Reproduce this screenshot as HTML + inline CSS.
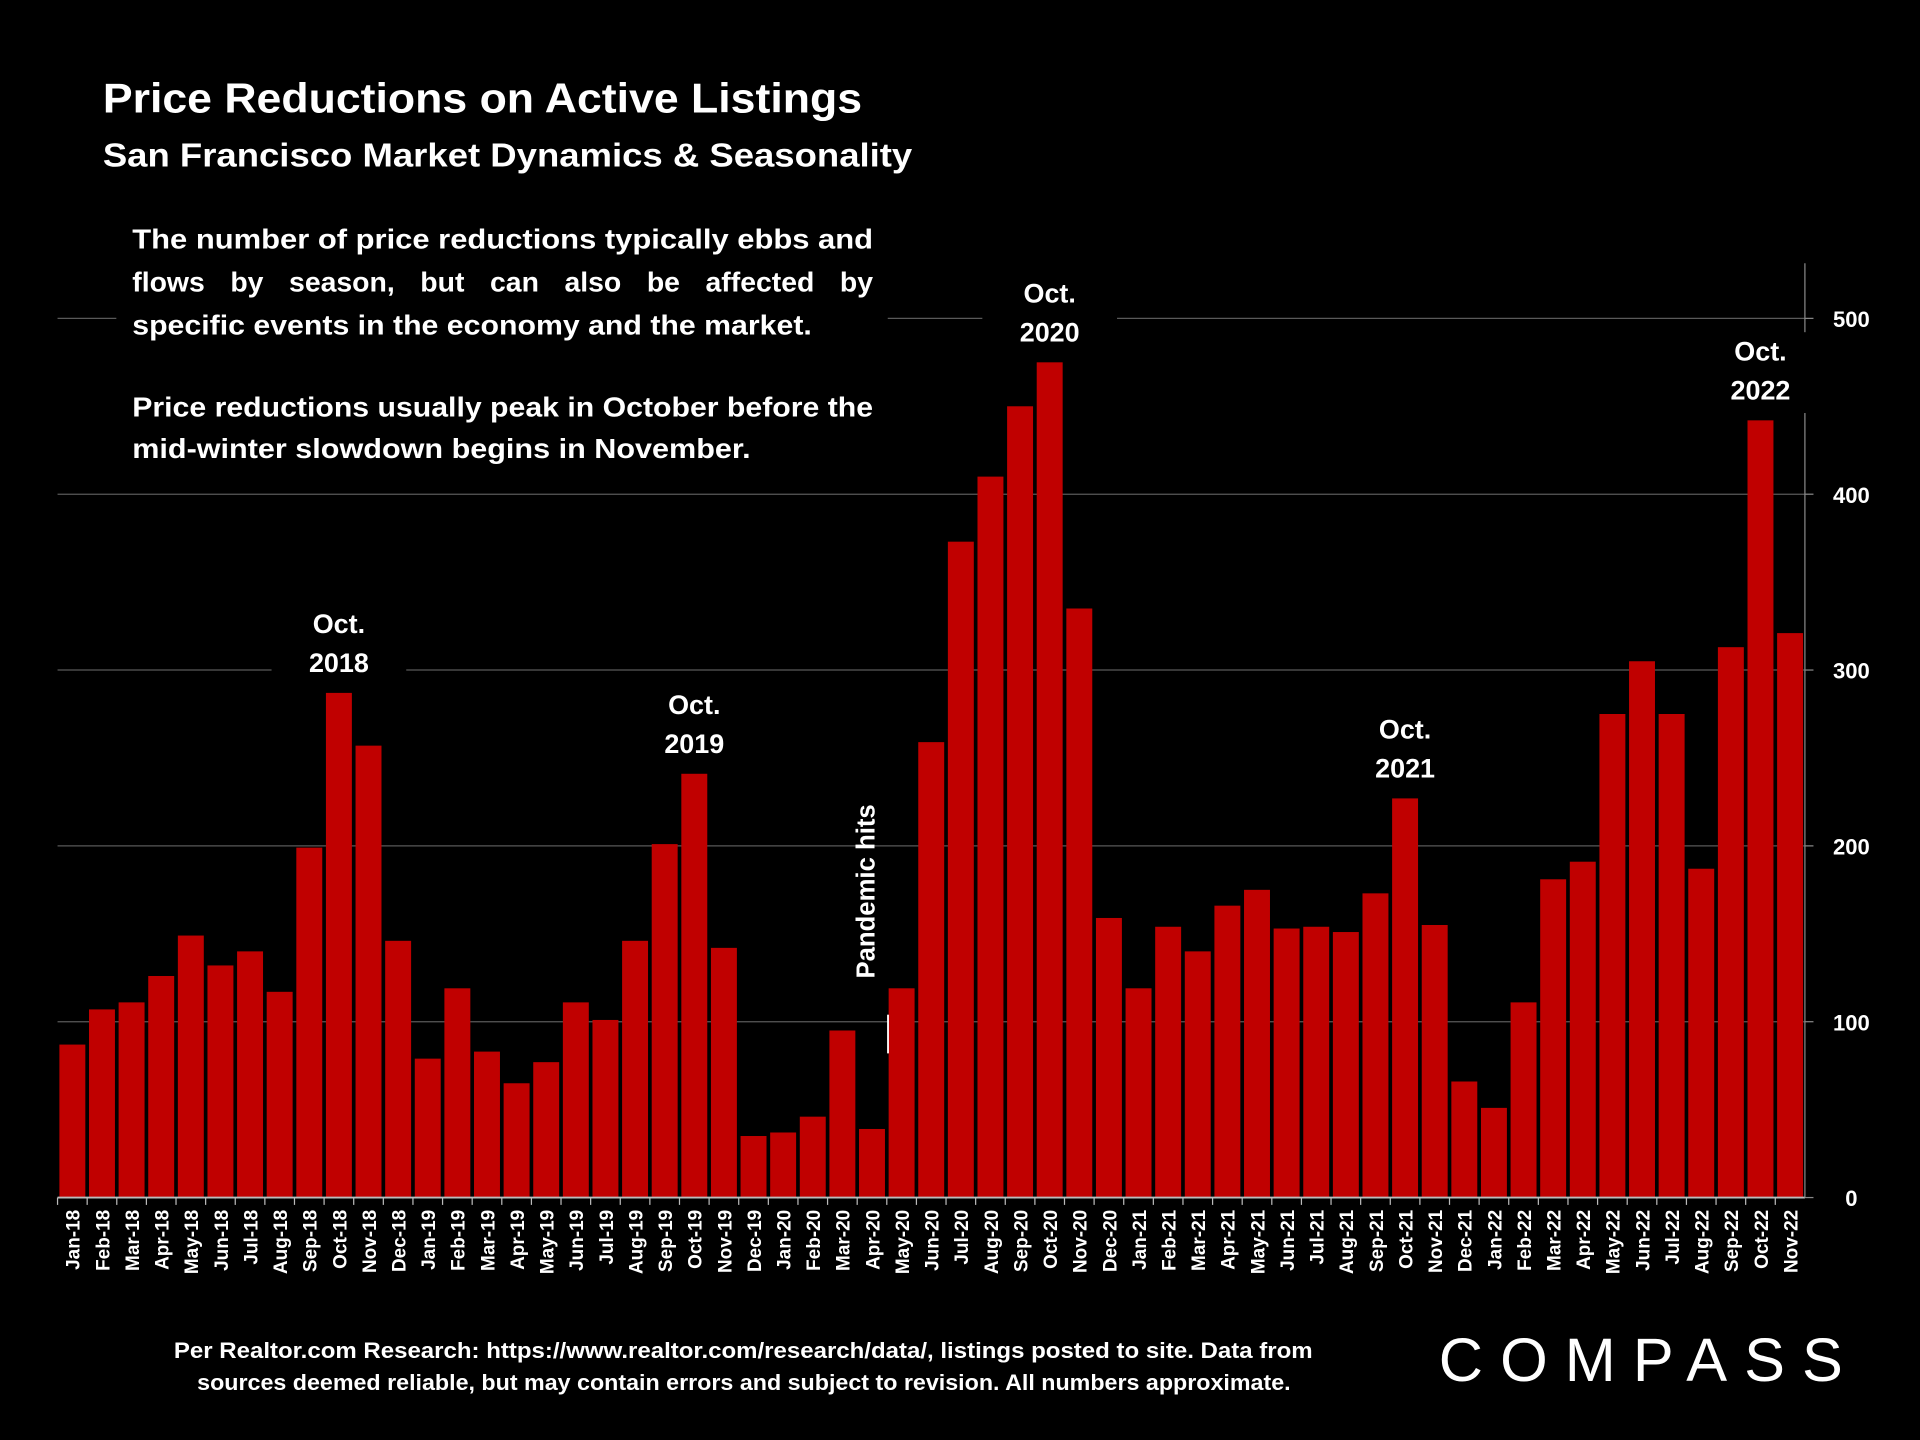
<!DOCTYPE html>
<html><head><meta charset="utf-8"><style>
html,body{margin:0;padding:0;background:#000;}
svg{display:block;font-family:"Liberation Sans",sans-serif;font-weight:bold;}
</style></head><body>
<svg id="chart" width="1920" height="1440" viewBox="0 0 1568 1176" xmlns="http://www.w3.org/2000/svg">
<rect width="1568" height="1176" fill="#000"/>
<g id="grid"></g>
<g id="bars"></g>
<g id="axes"></g>
<g id="annot"></g>
<text x="84" y="92" fill="#fff" font-size="34" textLength="620" lengthAdjust="spacingAndGlyphs">Price Reductions on Active Listings</text>
<text x="84" y="136" fill="#fff" font-size="27" textLength="661" lengthAdjust="spacingAndGlyphs">San Francisco Market Dynamics &amp; Seasonality</text>
<g fill="#fff" font-size="22.5">
<rect x="95" y="170" width="630" height="215" fill="#000"/>
<text x="108" y="203" textLength="605" lengthAdjust="spacingAndGlyphs">The number of price reductions typically ebbs and</text>
<text x="108" y="238" textLength="605" lengthAdjust="spacingAndGlyphs" word-spacing="14">flows by season, but can also be affected by</text>
<text x="108" y="273" textLength="555" lengthAdjust="spacingAndGlyphs">specific events in the economy and the market.</text>
<text x="108" y="340" textLength="605" lengthAdjust="spacingAndGlyphs">Price reductions usually peak in October before the</text>
<text x="108" y="374" textLength="505" lengthAdjust="spacingAndGlyphs">mid-winter slowdown begins in November.</text>
</g>
<g fill="#fff" font-size="18">
<text x="142" y="1109" textLength="930" lengthAdjust="spacingAndGlyphs">Per Realtor.com Research:  https://www.realtor.com/research/data/, listings posted to site. Data from</text>
<text x="161" y="1135" textLength="893" lengthAdjust="spacingAndGlyphs">sources deemed reliable, but may contain errors and subject to revision. All numbers approximate.</text>
</g>
<text x="1175" y="1128" fill="#fff" font-size="50" font-weight="normal" textLength="330" lengthAdjust="spacing">COMPASS</text>
</svg>
<script>
const categories=["Jan-18","Feb-18","Mar-18","Apr-18","May-18","Jun-18","Jul-18","Aug-18","Sep-18","Oct-18","Nov-18","Dec-18","Jan-19","Feb-19","Mar-19","Apr-19","May-19","Jun-19","Jul-19","Aug-19","Sep-19","Oct-19","Nov-19","Dec-19","Jan-20","Feb-20","Mar-20","Apr-20","May-20","Jun-20","Jul-20","Aug-20","Sep-20","Oct-20","Nov-20","Dec-20","Jan-21","Feb-21","Mar-21","Apr-21","May-21","Jun-21","Jul-21","Aug-21","Sep-21","Oct-21","Nov-21","Dec-21","Jan-22","Feb-22","Mar-22","Apr-22","May-22","Jun-22","Jul-22","Aug-22","Sep-22","Oct-22","Nov-22"];
const values=[87,107,111,126,149,132,140,117,199,287,257,146,79,119,83,65,77,111,101,146,201,241,142,35,37,46,95,39,119,259,373,410,450,475,335,159,119,154,140,166,175,153,154,151,173,227,155,66,51,111,181,191,275,305,275,187,313,442,321];
const yTicks=[0,100,200,300,400,500];
const annotations=[["Oct.","2018","Oct-18"],["Oct.","2019","Oct-19"],["Oct.","2020","Oct-20"],["Oct.","2021","Oct-21"],["Oct.","2022","Oct-22"]];
const NS="http://www.w3.org/2000/svg";
const X0=47,X1=1474,Y0=978,PER=1.436;
const step=(X1-X0)/categories.length;
const xPos=i=>X0+i*step;
const yPos=v=>Y0-v*PER;
function mk(t,a,p){const e=document.createElementNS(NS,t);for(const k in a)e.setAttribute(k,a[k]);p.appendChild(e);return e;}
const grid=document.getElementById('grid'),bars=document.getElementById('bars'),axes=document.getElementById('axes'),annot=document.getElementById('annot');
yTicks.forEach(t=>{
 if(t>0){const l=mk('line',{x1:X0,x2:X1,y1:yPos(t),y2:yPos(t),stroke:'#595959','stroke-width':1},grid);
 
 }
 const tk=mk('line',{x1:X1,x2:X1+7,y1:yPos(t),y2:yPos(t),stroke:'#888'},axes);
 const tx=mk('text',{x:X1+38,y:yPos(t)+7,fill:'#fff','font-size':18,'text-anchor':'middle'},axes);
 tx.textContent=t;
 
 
});
mk('line',{x1:X0,x2:X1,y1:Y0,y2:Y0,stroke:'#bbb','stroke-width':1.5},axes);
categories.forEach((c,i)=>{
 const r=mk('rect',{x:xPos(i)+1.5,y:yPos(values[i]),width:step-3,height:values[i]*PER,fill:'#c00000'},bars);
 
 
 mk('line',{x1:xPos(i),x2:xPos(i),y1:Y0,y2:Y0+6,stroke:'#bbb'},axes);
 const cx=xPos(i)+step/2+6;
 const t=mk('text',{x:0,y:0,fill:'#fff','font-size':15.5,'text-anchor':'end',transform:`translate(${cx},${Y0+10}) rotate(-90)`},axes);
 t.textContent=c;
 
 
});
annotations.forEach(a=>{
 const i=categories.indexOf(a[2]);const cx=xPos(i)+step/2;const top=yPos(values[i]);
 mk('rect',{x:cx-55,y:top-72,width:110,height:66,fill:'#000'},annot);
 const g=mk('g',{fill:'#fff','font-size':22,'text-anchor':'middle'},annot);
 
 
 mk('text',{x:cx,y:top-49},g).textContent=a[0];
 mk('text',{x:cx,y:top-17},g).textContent=a[1];
});
mk('line',{x1:X1,x2:X1,y1:215,y2:Y0,stroke:'#888'},axes);
const pi=categories.indexOf("May-20");
mk('line',{x1:xPos(pi)+1,x2:xPos(pi)+1,y1:yPos(82),y2:yPos(104),stroke:'#fff','stroke-width':1.5},annot);
const ph=mk('text',{x:0,y:0,fill:'#fff','font-size':21,'text-anchor':'middle',transform:`translate(${xPos(pi)-10},728) rotate(-90)`},annot);
ph.textContent="Pandemic hits";


</script>
</body></html>
